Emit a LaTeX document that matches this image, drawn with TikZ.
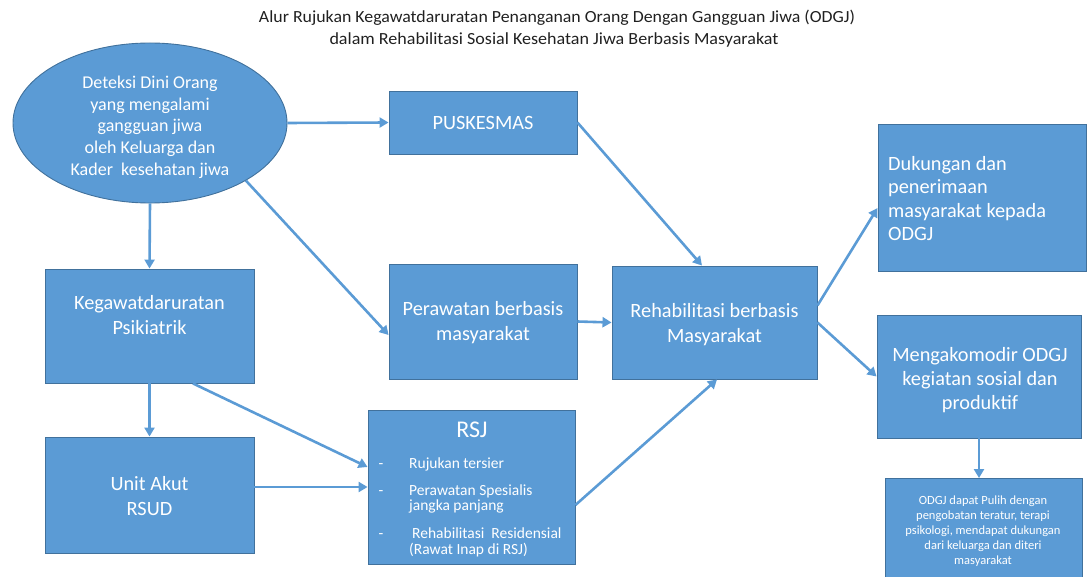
\documentclass[tikz,border=0pt]{standalone}
\usepackage{fontspec}
\usepackage{graphicx}
\setmainfont{Carlito}
\usetikzlibrary{arrows.meta,shapes.geometric,calc}
\definecolor{boxblue}{HTML}{5B9BD5}
\definecolor{boxline}{HTML}{41719C}
\definecolor{arrowblue}{HTML}{5B9BD5}
\definecolor{titlegray}{HTML}{202020}
\begin{document}
\begin{tikzpicture}[x=1pt,y=-1pt,
  box/.style={draw=boxline, line width=0.9pt, fill=boxblue, inner sep=0pt},
  txt/.style={text=white, align=center, inner sep=0pt},
  ltxt/.style={text=white, align=left, inner sep=0pt},
  conn/.style={draw=arrowblue, line width=2.6pt, -{Triangle[length=9pt,width=10pt]}},
  f20/.style={font=\fontsize{20.3}{25}\selectfont},
  f18/.style={font=\fontsize{18}{21.7}\selectfont},
  f15/.style={font=\fontsize{15.5}{15.5}\selectfont},
  f12/.style={font=\fontsize{12.5}{15}\selectfont}]
\useasboundingbox (0,0) rectangle (1088,577);

% title
\node[inner sep=0pt, text=titlegray, font=\fontsize{17}{20}\selectfont] (t1) at (557,18)
  {\resizebox{596pt}{\height}{Alur Rujukan Kegawatdaruratan Penanganan Orang Dengan Gangguan Jiwa (ODGJ)}};
\node[inner sep=0pt, text=titlegray, font=\fontsize{17}{20}\selectfont] (t2) at (554,40)
  {\resizebox{449pt}{\height}{dalam Rehabilitasi Sosial Kesehatan Jiwa Berbasis Masyarakat}};

% shapes
\node[box, ellipse, minimum width=274pt, minimum height=160pt] (ell) at (150,123) {};
\node[txt, f18] (ellT) at (150,127) {Deteksi Dini Orang\\yang mengalami\\gangguan jiwa\\oleh Keluarga dan\\Kader\ \ kesehatan jiwa};

\node[box, minimum width=188pt, minimum height=63pt] (pusk) at (483,122.5) {};
\node[txt, f20] (puskT) at (483,123) {PUSKESMAS};

\node[box, minimum width=188pt, minimum height=115pt] (per) at (483,321.5) {};
\node[txt, f20] (perT) at (483,323) {Perawatan berbasis\\masyarakat};

\node[box, minimum width=209pt, minimum height=114pt] (keg) at (149.5,326) {};
\node[txt, f20] (kegT) at (149.5,315) {Kegawatdaruratan\\Psikiatrik};

\node[box, minimum width=209pt, minimum height=116pt] (unit) at (149.5,495) {};
\node[txt, f20] (unitT) at (149.5,496.5) {Unit Akut\\RSUD};

\node[box, minimum width=207pt, minimum height=154pt] (rsj) at (471.5,487) {};
\node[txt, font=\fontsize{24}{28}\selectfont, anchor=base] (rsjT) at (472,438) {RSJ};
\node[txt, f15, anchor=base] (d1) at (381,468) {-};
\node[txt, f15, anchor=base] (d2) at (381,496) {-};
\node[txt, f15, anchor=base] (d3) at (381,538) {-};
\node[ltxt, f15, anchor=base west] (r1) at (409,468) {Rujukan tersier};
\node[ltxt, f15, anchor=base west] (r2a) at (409,496) {Perawatan Spesialis};
\node[ltxt, f15, anchor=base west] (r2b) at (409,511) {jangka panjang};
\node[ltxt, f15, anchor=base west] (r3a) at (412,538) {Rehabilitasi\ \ Residensial};
\node[ltxt, f15, anchor=base west] (r3b) at (409,554) {(Rawat Inap di RSJ)};

\node[box, minimum width=205pt, minimum height=113pt] (reh) at (714.5,322.5) {};
\node[txt, f20] (rehT) at (714.5,325) {Rehabilitasi berbasis\\Masyarakat};

\node[box, minimum width=208pt, minimum height=147pt] (duk) at (982,197.5) {};
\node[ltxt, font=\fontsize{20.3}{23.2}\selectfont, anchor=west] (dukT) at (888,198.5) {Dukungan dan\\penerimaan\\masyarakat kepada\\ODGJ};

\node[box, minimum width=204pt, minimum height=123pt] (men) at (979,376.5) {};
\node[txt, font=\fontsize{20.3}{24}\selectfont] (menT) at (980,380) {Mengakomodir ODGJ\\kegiatan sosial dan\\produktif};

\node[box, minimum width=197pt, minimum height=99pt] (odgj) at (983.5,528) {};
\node[txt, f12] (odgjT) at (983,531) {ODGJ dapat Pulih dengan\\pengobatan teratur, terapi\\psikologi, mendapat dukungan\\dari keluarga dan diteri\\masyarakat};

% connectors
\draw[conn] (ell.east) -- (pusk.west);
\draw[conn] (ell.south) -- (keg.north);
\draw[conn] (ell.-31) -- ([yshift=-13.5pt]per.west);
\draw[conn] (keg.south) -- (unit.north);
\draw[conn] ([xshift=43.5pt]keg.south) -- ([yshift=20pt]rsj.west);
\draw[conn] (unit.east |- rsj.west) -- (rsj.west);
\draw[conn] (pusk.east) -- ([xshift=-12.5pt]reh.north);
\draw[conn] (per.east) -- (reh.west);
\draw[conn] ([yshift=-18pt]rsj.east) -- ([xshift=2.5pt]reh.south);
\draw[conn] ([yshift=17pt]reh.east) -- ([yshift=-10.5pt]duk.west);
\draw[conn] (reh.east) -- (men.west);
\draw[conn] (men.south) -- (men.south |- odgj.north);
\end{tikzpicture}
\end{document}
